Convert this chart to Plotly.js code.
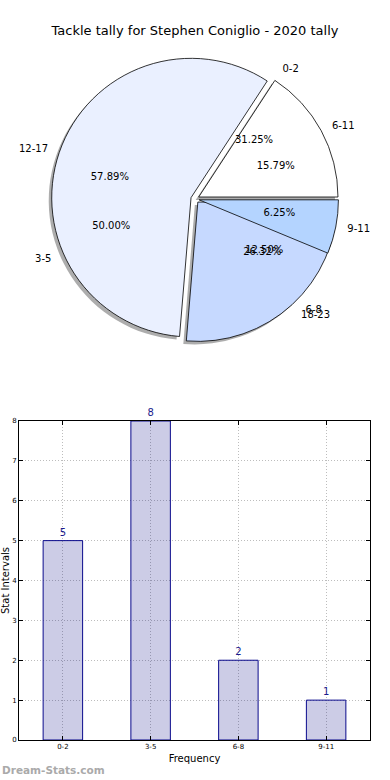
<!DOCTYPE html>
<html>
<head>
<meta charset="utf-8">
<script src="https://cdn.plot.ly/plotly-3.0.1.min.js"></script>
<style>html,body{margin:0;padding:0;background:#fff;}#chart{width:390px;height:780px;}</style>
</head>
<body>
<div id="chart"></div>
<script>
// Data
var titleText = "Tackle tally for Stephen Coniglio - 2020 tally";
var barLabels = ["0-2", "3-5", "6-8", "9-11"];
var barValues = [5, 8, 2, 1];
var pieLabels2 = ["6-11", "12-17", "18-23"];
var pieValues2 = [3, 11, 5];
var xTitle = "Frequency";
var yTitle = "Stat Intervals";
var watermark = "Dream-Stats.com";

var pieColors = ["#FFFFFF", "#EAF0FF", "#C6D9FF", "#B4D4FF"];
var clear = "rgba(0,0,0,0)";
var font = "DejaVu Sans, sans-serif";

function sum(a) { return a.reduce(function (s, v) { return s + v; }, 0); }
// start each pie's first slice at 3 o'clock, going counterclockwise
var rot1 = 90 - 360 * barValues[0] / sum(barValues);
var rot2 = 90 - 360 * pieValues2[0] / sum(pieValues2);

// domains (plot area is 351 x 740 px, offset 19px from left)
function dom(cx, cy, size) {
  return {x: [(cx - size/2 - 19)/351, (cx + size/2 - 19)/351],
          y: [(740 - (cy + size/2))/740, (740 - (cy - size/2))/740]};
}
var pieDomain = dom(195, 199, 287);
var shadowDomain = dom(192, 202, 287);
var pctDomain = dom(195, 199, 134);
var lblDomain = dom(195, 199, 305);

var common = {type: "pie", sort: false, direction: "counterclockwise",
  hoverinfo: "none", showlegend: false};
var txt = {family: font, size: 10, color: "#000"};

var traces = [];
// shadow
traces.push(Object.assign({}, common, {
  labels: pieLabels2, values: pieValues2, domain: shadowDomain, pull: 0.03, rotation: rot2,
  marker: {colors: ["#777", "#777", "#777"], line: {width: 0}}, opacity: 0.6,
  textinfo: "none"
}));
// pie 2 (main visible)
traces.push(Object.assign({}, common, {
  labels: pieLabels2, values: pieValues2, domain: pieDomain, pull: 0.03, rotation: rot2,
  marker: {colors: pieColors.slice(0, 3), line: {color: "#000", width: 0.8}},
  textinfo: "none"
}));
// pie 1 overlay (only last slice filled)
traces.push(Object.assign({}, common, {
  labels: barLabels, values: barValues, domain: pieDomain, pull: [0, 0, 0, 0.03], rotation: rot1,
  marker: {colors: [clear, clear, clear, pieColors[3]], line: {color: [clear, clear, clear, "#000"], width: [0, 0, 0, 0.8]}},
  textinfo: "none"
}));
// percentages
traces.push(Object.assign({}, common, {
  labels: pieLabels2, values: pieValues2, domain: pctDomain, rotation: rot2,
  marker: {colors: [clear, clear, clear], line: {width: 0}},
  texttemplate: "%{percent:.2%}", textposition: "outside", textfont: txt
}));
traces.push(Object.assign({}, common, {
  labels: barLabels, values: barValues, domain: pctDomain, rotation: rot1,
  marker: {colors: [clear, clear, clear, clear], line: {width: 0}},
  texttemplate: "%{percent:.2%}", textposition: "outside", textfont: txt
}));
// outside labels
traces.push(Object.assign({}, common, {
  labels: pieLabels2, values: pieValues2, domain: lblDomain, rotation: rot2,
  marker: {colors: [clear, clear, clear], line: {width: 0}},
  texttemplate: "%{label}", textposition: "outside", textfont: txt
}));
traces.push(Object.assign({}, common, {
  labels: barLabels, values: barValues, domain: lblDomain, rotation: rot1,
  marker: {colors: [clear, clear, clear, clear], line: {width: 0}},
  texttemplate: "%{label}", textposition: "outside", textfont: txt
}));

// bars
traces.push({
  type: "bar", x: barLabels, y: barValues, width: 0.45,
  marker: {color: "rgba(0,0,128,0.2)", line: {color: "#0A0A8C", width: 1}},
  text: barValues.map(String), textposition: "outside", cliponaxis: false,
  textfont: {family: font, size: 10, color: "#1A1A8C"},
  hoverinfo: "none", showlegend: false
});

var axisCommon = {
  showline: true, linecolor: "#000", linewidth: 1, mirror: "ticks",
  ticks: "inside", ticklen: 4, tickcolor: "#000",
  showgrid: true, gridcolor: "#bdbdbd", griddash: "1px,2px", gridwidth: 1,
  zeroline: false, tickfont: {family: font, size: 7, color: "#000"}
};

var layout = {
  width: 390, height: 780,
  margin: {l: 19, r: 20, t: 0, b: 40},
  paper_bgcolor: "#fff", plot_bgcolor: "#fff",
  font: {family: font},
  title: {text: titleText, font: {family: font, size: 13, color: "#000"},
    x: 0.5, xanchor: "center", y: 1 - 30/780, yanchor: "middle"},
  xaxis: Object.assign({}, axisCommon, {type: "category", range: [-0.5, 3.5],
    title: {text: xTitle, font: {family: font, size: 10, color: "#000"}, standoff: 4}}),
  yaxis: Object.assign({}, axisCommon, {range: [0, 8], dtick: 1, domain: [0, 0.4311],
    title: {text: yTitle, font: {family: font, size: 10, color: "#000"}, standoff: 2}}),
  annotations: [{text: watermark, xref: "paper", yref: "paper", x: -19/351, y: -30/740,
    xanchor: "left", yanchor: "middle", showarrow: false,
    font: {family: font, size: 10.5, color: "#aaaaaa", weight: "bold"}}]
};

Plotly.newPlot("chart", traces, layout, {displayModeBar: false, staticPlot: true});
</script>
</body>
</html>
